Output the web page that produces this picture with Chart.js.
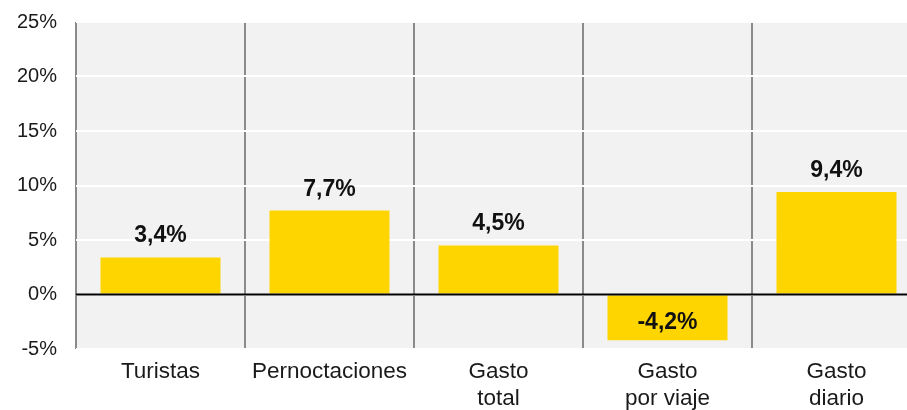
<!DOCTYPE html>
<html>
<head>
<meta charset="utf-8">
<script src="https://cdn.jsdelivr.net/npm/chart.js@4"></script>
<style>
  html, body { margin: 0; padding: 0; background: #fff; overflow: hidden; }
  #wrap { width: 930px; height: 410px; position: relative; }
</style>
</head>
<body>
<div id="wrap"><canvas id="c" width="930" height="410"></canvas></div>
<script>
const categories = [["Turistas"], ["Pernoctaciones"], ["Gasto", "total"], ["Gasto", "por viaje"], ["Gasto", "diario"]];
const values = [3.4, 7.7, 4.5, -4.2, 9.4];
const valueLabels = ["3,4%", "7,7%", "4,5%", "-4,2%", "9,4%"];
const yMin = -5, yMax = 25, yStep = 5;

const FONT = "'Liberation Sans', Arial, sans-serif";

const bgPlugin = {
  id: 'bg',
  beforeDraw(chart) {
    const {ctx, chartArea: a} = chart;
    ctx.save();
    ctx.fillStyle = '#f2f2f2';
    ctx.fillRect(a.left, a.top, a.right - a.left, a.bottom - a.top);
    ctx.restore();
  }
};

const zeroAndLabels = {
  id: 'zeroAndLabels',
  afterDatasetsDraw(chart) {
    const {ctx, chartArea: a, scales} = chart;
    const y0 = scales.y.getPixelForValue(0);
    ctx.save();
    ctx.strokeStyle = '#000';
    ctx.lineWidth = 2;
    ctx.beginPath();
    ctx.moveTo(a.left, y0);
    ctx.lineTo(a.right, y0);
    ctx.stroke();
    const meta = chart.getDatasetMeta(0);
    ctx.font = 'bold 23px ' + FONT;
    ctx.fillStyle = '#111';
    ctx.textAlign = 'center';
    ctx.textBaseline = 'alphabetic';
    meta.data.forEach((bar, i) => {
      const v = values[i];
      let y;
      if (v >= 0) y = bar.y - 15;
      else y = bar.y - 11;
      ctx.fillText(valueLabels[i], bar.x, y);
    });
    ctx.restore();
  }
};

new Chart(document.getElementById('c'), {
  type: 'bar',
  data: {
    labels: categories,
    datasets: [{
      data: values,
      backgroundColor: '#ffd500',
      borderWidth: 0,
      barPercentage: 0.71,
      categoryPercentage: 1.0
    }]
  },
  options: {
    responsive: false,
    animation: false,
    devicePixelRatio: 1,
    layout: { padding: { top: 22, right: 9, left: 0, bottom: 0 } },
    plugins: { legend: { display: false }, tooltip: { enabled: false } },
    scales: {
      x: {
        grid: { display: true, offset: true, color: '#8a8a8a', lineWidth: 2, drawTicks: false },
        border: { display: false },
        ticks: {
          color: '#1a1a1a',
          font: { family: FONT, size: 22.5, lineHeight: 1.2 },
          padding: 9,
          maxRotation: 0,
          autoSkip: false
        },
        afterFit(s) { s.height = 61; s.paddingLeft = 0; s.paddingRight = 0; }
      },
      y: {
        min: yMin, max: yMax,
        grid: { color: '#ffffff', lineWidth: 2, drawTicks: false },
        border: { display: false },
        ticks: {
          stepSize: yStep,
          color: '#1a1a1a',
          font: { family: FONT, size: 20 },
          padding: 19,
          callback: v => v + '%'
        },
        afterFit(s) { s.width = 76; s.paddingTop = 0; s.paddingBottom = 0; }
      }
    }
  },
  plugins: [bgPlugin, zeroAndLabels]
});
</script>
</body>
</html>
